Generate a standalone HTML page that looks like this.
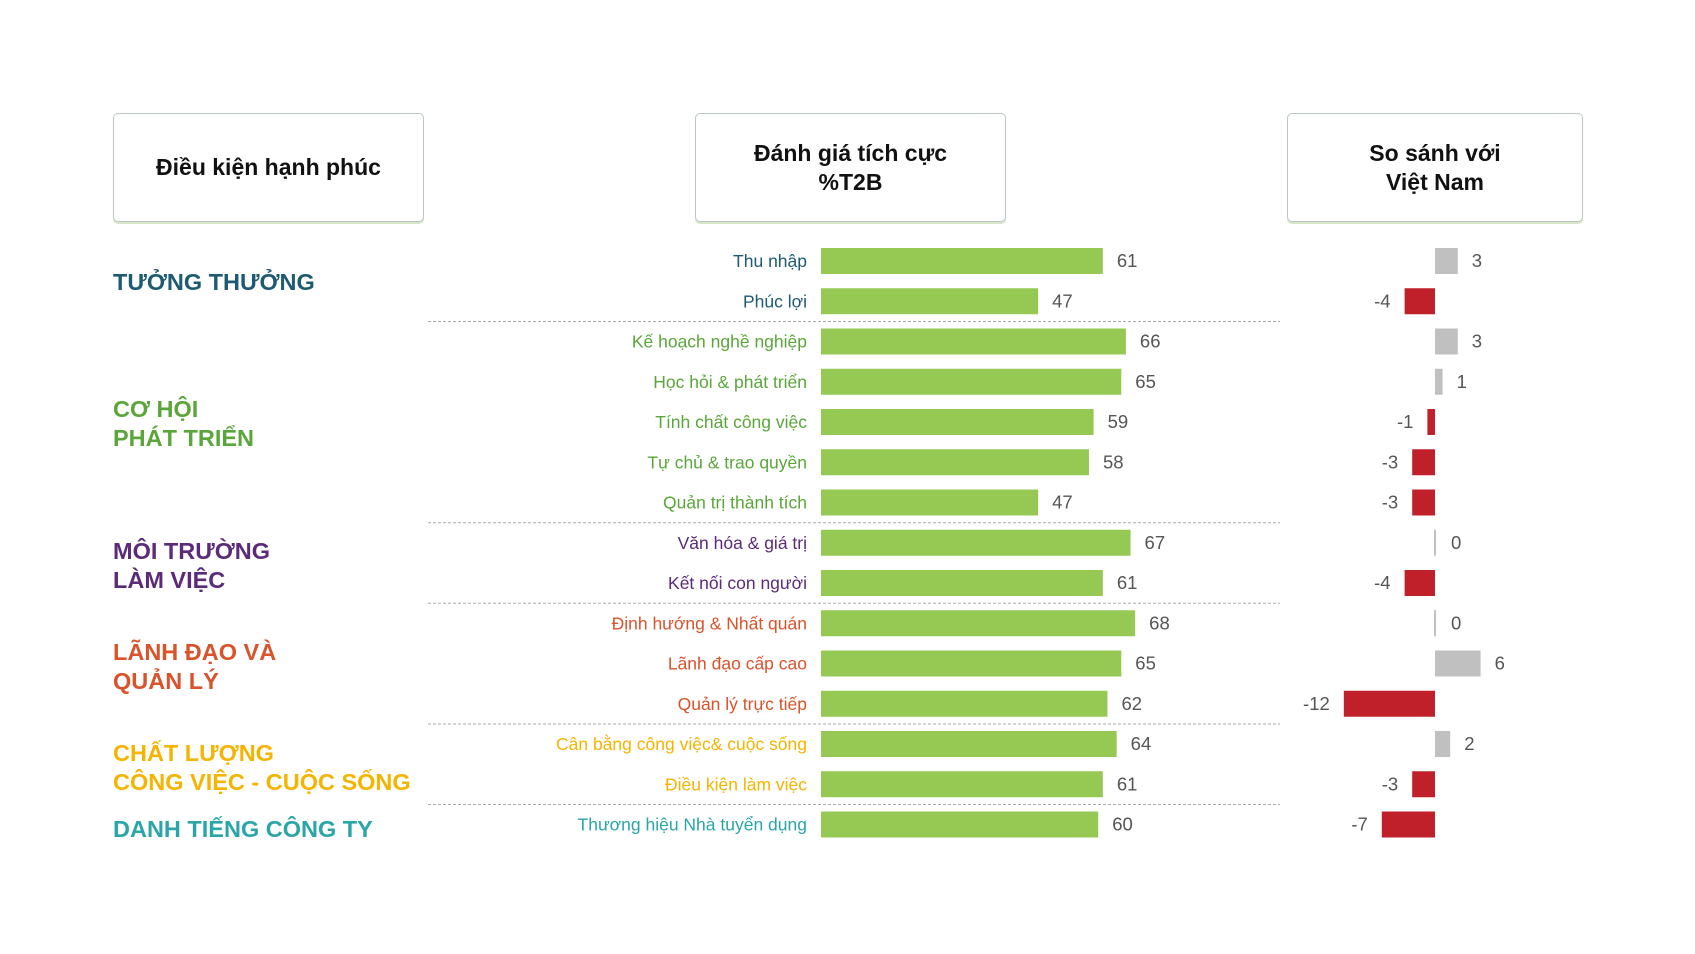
<!DOCTYPE html>
<html><head><meta charset="utf-8"><style>
body{margin:0;background:#fff;width:1695px;height:954px;overflow:hidden;font-family:"Liberation Sans","DejaVu Sans",sans-serif}
.box{position:absolute;box-sizing:border-box;border:1.5px solid #b9c6c4;border-radius:5px;display:flex;align-items:center;justify-content:center;text-align:center;font-weight:bold;font-size:23px;color:#111;line-height:29px;box-shadow:0 2px 0 #d7e6c8}
.cat{position:absolute;left:113px;font-weight:bold;font-size:23.5px;line-height:29px}
</style></head><body>
<div class="box" style="left:113px;top:113px;width:311px;height:109px">Điều kiện hạnh phúc</div>
<div class="box" style="left:695px;top:113px;width:311px;height:109px">Đánh giá tích cực<br>%T2B</div>
<div class="box" style="left:1287px;top:113px;width:296px;height:109px">So sánh với<br>Việt Nam</div>
<div class="cat" style="top:268px;color:#1d5b73">TƯỞNG THƯỞNG</div>
<div class="cat" style="top:395px;color:#5aa63a">CƠ HỘI<br>PHÁT TRIỂN</div>
<div class="cat" style="top:537px;color:#5b2a7a">MÔI TRƯỜNG<br>LÀM VIỆC</div>
<div class="cat" style="top:638px;color:#d9532b">LÃNH ĐẠO VÀ<br>QUẢN LÝ</div>
<div class="cat" style="top:739px;color:#f5b400">CHẤT LƯỢNG<br>CÔNG VIỆC - CUỘC SỐNG</div>
<div class="cat" style="top:815px;color:#2aa5a8">DANH TIẾNG CÔNG TY</div>
<svg id="chart" width="1695" height="954" style="position:absolute;left:0;top:0" xmlns="http://www.w3.org/2000/svg"></svg>
<script>
const categories=["Thu nhập","Phúc lợi","Kế hoạch nghề nghiệp","Học hỏi & phát triển","Tính chất công việc","Tự chủ & trao quyền","Quản trị thành tích","Văn hóa & giá trị","Kết nối con người","Định hướng & Nhất quán","Lãnh đạo cấp cao","Quản lý trực tiếp","Cân bằng công việc& cuộc sống","Điều kiện làm việc","Thương hiệu Nhà tuyển dụng"];
const groupOf=[0,0,1,1,1,1,1,2,2,3,3,3,4,4,5];
const t2b=[61,47,66,65,59,58,47,67,61,68,65,62,64,61,60];
const diffVN=[3,-4,3,1,-1,-3,-3,0,-4,0,6,-12,2,-3,-7];
const groupColors=["#1d5b73","#5aa63a","#5b2a7a","#d9532b","#f5b400","#2aa5a8"];
const svg=document.getElementById('chart');const NS="http://www.w3.org/2000/svg";
const y=i=>261+40.25*i;
const xG=v=>821+v*4.62;
const xD=v=>1435+v*7.6;
function mk(t,a){const e=document.createElementNS(NS,t);for(const k in a)e.setAttribute(k,a[k]);svg.appendChild(e);return e;}
categories.forEach((c,i)=>{
 const cy=y(i);
 const lb=mk('text',{x:807,y:cy+6,'text-anchor':'end','font-size':17.5,fill:groupColors[groupOf[i]],'font-family':'Liberation Sans, sans-serif'});lb.textContent=c;
 
 
 const b=mk('rect',{x:xG(0),y:cy-13,width:xG(t2b[i])-xG(0),height:26,fill:'#95c954'});
 
 
 const vt=mk('text',{x:xG(t2b[i])+14,y:cy+6,'font-size':18.5,fill:'#555','font-family':'Liberation Sans, sans-serif'});vt.textContent=t2b[i];
 
 
 const d=diffVN[i];let db;
 if(d===0){db=mk('rect',{x:xD(0)-1,y:cy-13,width:2,height:26,fill:'#c0c0c0'});}
 else{const x0=Math.min(xD(0),xD(d)),w=Math.abs(xD(d)-xD(0));db=mk('rect',{x:x0,y:cy-13,width:w,height:26,fill:d>0?'#c0c0c0':'#c0202a'});}
 
 
 const dt=mk('text',{x:d>=0?Math.max(xD(d),xD(0)+2)+14:xD(d)-14,y:cy+6,'text-anchor':d>=0?'start':'end','font-size':18.5,fill:'#555','font-family':'Liberation Sans, sans-serif'});dt.textContent=d;
 
 
 if(i<categories.length-1&&groupOf[i+1]!==groupOf[i]){
  const ln=mk('line',{x1:428,x2:1280,y1:cy+20.2,y2:cy+20.2,stroke:'#aaa','stroke-width':1,'stroke-dasharray':'3,2'});
  
  
 }
});
</script>
</body></html>
